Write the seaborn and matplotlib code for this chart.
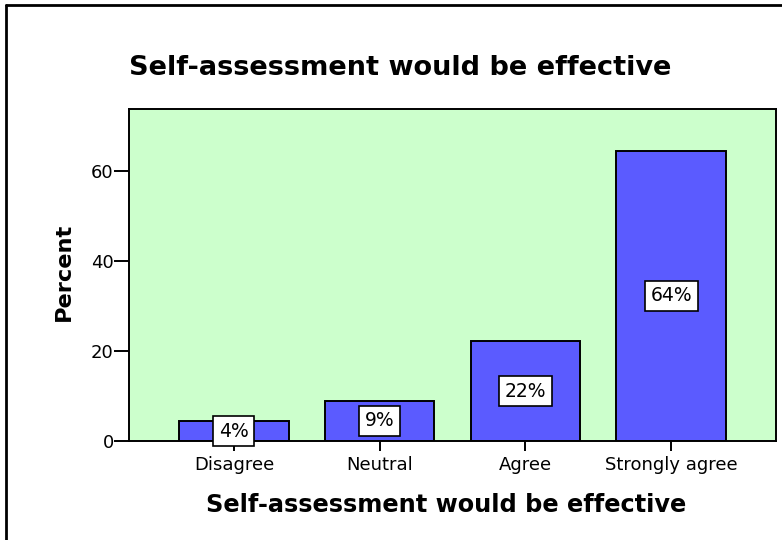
import matplotlib
matplotlib.use("Agg")
import matplotlib.pyplot as plt
import seaborn as sns
import pandas as pd
from matplotlib.lines import Line2D

categories = ["Disagree", "Neutral", "Agree", "Strongly agree"]
percent = [4.4, 8.9, 22.2, 64.5]
labels = ["4%", "9%", "22%", "64%"]
yticks = [0, 20, 40, 60]

sns.set_theme(style="white")
plt.rcParams['font.family'] = ['DejaVu Sans']
plt.rcParams['text.color'] = 'black'
plt.rcParams['axes.labelcolor'] = 'black'

df = pd.DataFrame({"category": categories, "percent": percent})

fig = plt.figure(figsize=(7.82, 5.40), dpi=100)
ax = fig.add_axes([129/782, 1-441/540, (776-129)/782, (441-109)/540])

sns.barplot(data=df, x="category", y="percent", order=categories, ax=ax,
            color="#5B5BFF", saturation=1, width=0.75,
            edgecolor="black", linewidth=1.4)

ax.set_facecolor("#CCFFCC")
for s in ax.spines.values():
    s.set_visible(True)
    s.set_color("black")
    s.set_linewidth(1.4)

ax.set_xlim(-0.72, 3.72)
ax.set_ylim(0, 73.8)
ax.set_yticks(yticks)
ax.set_yticklabels([str(v) for v in yticks])
ax.tick_params(axis="y", direction="out", length=11, width=1.4, pad=0,
               labelsize=13, colors="black", left=True)
ax.tick_params(axis="x", direction="out", length=7, width=1.4, pad=4,
               labelsize=13, colors="black", bottom=True)

ax.bar_label(ax.containers[0], labels=labels, label_type="center",
             fontsize=13.5, color="black",
             bbox=dict(boxstyle="square,pad=0.3", facecolor="white",
                       edgecolor="black", linewidth=1.2))

ax.set_xlabel("")
ax.set_ylabel("")
fig.text(446/782, 1-505/540, "Self-assessment would be effective",
         fontsize=17.3, fontweight="bold", ha="center", va="center", color="black")
fig.text(64/782, 1-272/540, "Percent", rotation=90,
         fontsize=16.2, fontweight="bold", ha="center", va="center", color="black")
fig.text(400/782, 1-68/540, "Self-assessment would be effective",
         fontsize=19.5, fontweight="bold", ha="center", va="center", color="black")

# outer frame lines
fig.add_artist(Line2D([6/782, 6/782], [0, 1-5/540], transform=fig.transFigure,
                      color="black", linewidth=2))
fig.add_artist(Line2D([6/782, 1], [1-5/540, 1-5/540], transform=fig.transFigure,
                      color="black", linewidth=2))

fig.savefig("out.png", dpi=100)
